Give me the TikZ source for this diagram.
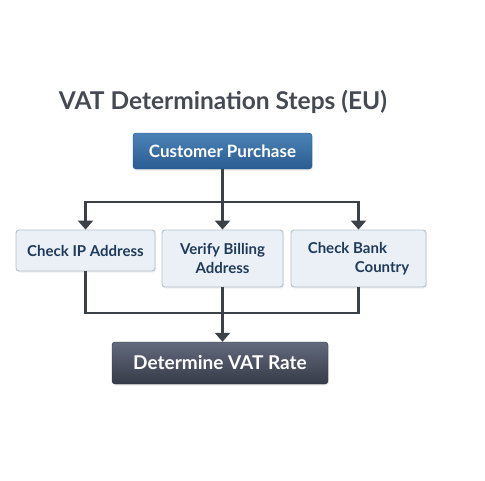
\documentclass[tikz,border=0pt]{standalone}
\usepackage{fontspec}
\setmainfont{Lato}
\usepackage{xcolor}
\usetikzlibrary{arrows.meta,shadows}

\definecolor{titlegray}{HTML}{454A52}
\definecolor{linegray}{HTML}{3C4148}
\definecolor{stepfill}{HTML}{EAF0F5}
\definecolor{stepline}{HTML}{B3C0CC}
\definecolor{steptext}{HTML}{1F3A5A}
\definecolor{starttop}{HTML}{4B82B6}
\definecolor{startbot}{HTML}{2A5D92}
\definecolor{startline}{HTML}{245385}
\definecolor{endtop}{HTML}{636A7D}
\definecolor{endbot}{HTML}{363B48}
\definecolor{endline}{HTML}{2E323D}

\tikzset{
    stepbox/.style={draw=stepline, line width=0.9pt, fill=stepfill, rounded corners=3pt,
        text=steptext, font=\fontsize{15}{19}\selectfont\bfseries, align=center,
        drop shadow={opacity=0.12, shadow xshift=1pt, shadow yshift=-1.5pt}},
    flow/.style={draw=linegray, line width=2.6pt},
    tip/.style={-{Triangle[length=9pt, width=15pt]}}
}

\begin{document}
\begin{tikzpicture}[x=1pt, y=-1pt]
    \useasboundingbox[fill=white] (0,0) rectangle (485,480);

    % title
    \node[text=titlegray, font=\fontsize{24.5}{30}\selectfont\bfseries] (title) at (223,102) {VAT Determination Steps (EU)};

    % boxes
    \node[rounded corners=3pt, draw=startline, top color=starttop, bottom color=startbot,
        minimum width=179pt, minimum height=36pt, text=white, font=\fontsize{17}{20}\selectfont\bfseries,
        drop shadow={opacity=0.15, shadow xshift=1pt, shadow yshift=-1.5pt}] (purchase) at (222.5,151) {Customer Purchase};
    \node[stepbox, minimum width=139pt, minimum height=41pt] (ip) at (85.5,250.5) {Check IP Address};
    \node[stepbox, minimum width=121pt, minimum height=57pt] (billing) at (222.5,258.5) {Verify Billing\\Address};
    \node[stepbox, minimum width=135pt, minimum height=57pt, align=left] (bank) at (358.5,258.5) {Check Bank\\\hspace*{47pt}Country};
    \node[rounded corners=3pt, draw=endline, top color=endtop, bottom color=endbot,
        minimum width=216pt, minimum height=42pt, text=white, font=\fontsize{19}{22}\selectfont\bfseries,
        drop shadow={opacity=0.15, shadow xshift=1pt, shadow yshift=-1.5pt}] (rate) at (220,363) {Determine VAT Rate};

    % connectors
    \coordinate (split) at (222.5,202);
    \coordinate (join) at (222.5,313);
    \draw[flow] (purchase.south) -- (split);
    \draw[flow, tip] (split) -| (ip.north);
    \draw[flow, tip] (split) -| (bank.north);
    \draw[flow, tip] (purchase.south) -- (billing.north);
    \draw[flow] (ip.south) |- (join);
    \draw[flow] (bank.south) |- (join);
    \draw[flow, tip] (billing.south) -- (billing.south |- rate.north);
\end{tikzpicture}
\end{document}
